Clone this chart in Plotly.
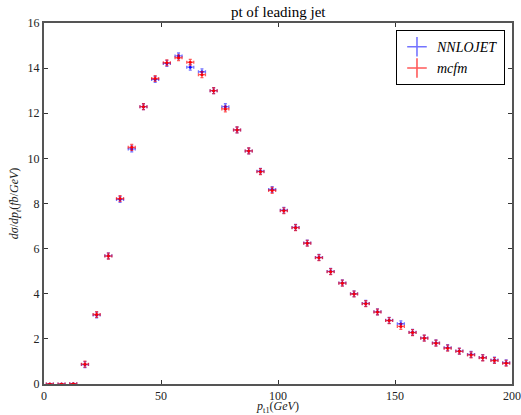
import plotly.graph_objects as go

# bin centres of pt of leading jet (GeV)
pt_bins = [2.5 + 5 * i for i in range(40)]

nnlojet = [0.0, 0.0, 0.01, 0.86, 3.06, 5.68, 8.18, 10.42, 12.29, 13.50,
           14.21, 14.54, 14.04, 13.84, 13.00, 12.29, 11.26, 10.33, 9.43, 8.62,
           7.70, 6.94, 6.25, 5.61, 4.99, 4.48, 4.00, 3.57, 3.20, 2.82,
           2.67, 2.29, 2.04, 1.82, 1.61, 1.46, 1.31, 1.17, 1.06, 0.94]
mcfm = [0.0, 0.0, 0.01, 0.88, 3.08, 5.67, 8.22, 10.49, 12.29, 13.54,
        14.24, 14.46, 14.26, 13.71, 13.00, 12.19, 11.26, 10.33, 9.41, 8.58,
        7.68, 6.93, 6.24, 5.60, 4.98, 4.47, 3.99, 3.56, 3.19, 2.81,
        2.55, 2.28, 2.03, 1.81, 1.59, 1.45, 1.29, 1.16, 1.04, 0.92]

nnlojet_err = [0.0] * 3 + [0.13] * 37
mcfm_err = [0.0] * 3 + [0.13] * 37
x_err = [1.5] * 40

serif = "Liberation Serif, DejaVu Serif, serif"

series = [
    ('<i>NNLOJET</i>', nnlojet, nnlojet_err, 'rgba(0,0,255,0.9)', 'rgba(0,0,255,0.55)'),
    ('<i>mcfm</i>', mcfm, mcfm_err, 'rgba(255,0,0,0.95)', 'rgba(255,0,0,0.65)'),
]

fig = go.Figure()

for name, vals, errs, col, ecol in series:
    fig.add_trace(go.Scatter(
        x=pt_bins, y=vals, mode='markers', name=name, showlegend=False,
        marker=dict(color=col, size=3),
        error_x=dict(type='data', array=x_err, color=ecol, thickness=1.3, width=1.5),
        error_y=dict(type='data', array=errs, color=ecol, thickness=1.3, width=1.5),
    ))

# legend entries drawn as error-bar crosses
for name, vals, errs, col, ecol in series:
    fig.add_trace(go.Scatter(
        x=[None], y=[None], mode='markers', name=name,
        marker=dict(symbol='cross-thin', size=14, color=ecol, line=dict(color=ecol, width=1.6)),
    ))

axis_style = dict(
    showgrid=False, zeroline=False, showline=True, linecolor='#555555', linewidth=2,
    mirror='ticks', ticks='inside', ticklen=4, tickcolor='#333333', automargin=False,
    tickfont=dict(family=serif, size=12, color='#222222'),
)

fig.update_layout(
    width=521, height=415,
    margin=dict(l=44, r=9, t=23, b=31),
    paper_bgcolor='white', plot_bgcolor='white',
    title=dict(text='pt of leading jet', x=0.534, xanchor='center', y=0.972, yanchor='middle',
               font=dict(family=serif, size=15, color='black')),
    xaxis=dict(range=[0, 200], tickvals=[0, 50, 100, 150, 200], ticklabeloverflow='allow',
               title=dict(text='<i>p</i><sub>t1</sub>(<i>GeV</i>)', standoff=0,
                          font=dict(family=serif, size=12, color='#222222')),
               **axis_style),
    yaxis=dict(range=[0, 16], tickvals=[0, 2, 4, 6, 8, 10, 12, 14, 16],
               title=dict(text='<i>dσ</i>/<i>dp<sub>t</sub></i>(<i>fb</i>/<i>GeV</i>)', standoff=6,
                          font=dict(family=serif, size=12, color='#222222')),
               **axis_style),
    legend=dict(x=0.985, y=0.98, xanchor='right', yanchor='top',
                bordercolor='black', borderwidth=1, bgcolor='white', tracegroupgap=0,
                font=dict(family=serif, size=14, color='black')),
    showlegend=True,
)

fig.write_html("out.html", config={'displayModeBar': False},
               post_script="document.body.style.margin='0';")
